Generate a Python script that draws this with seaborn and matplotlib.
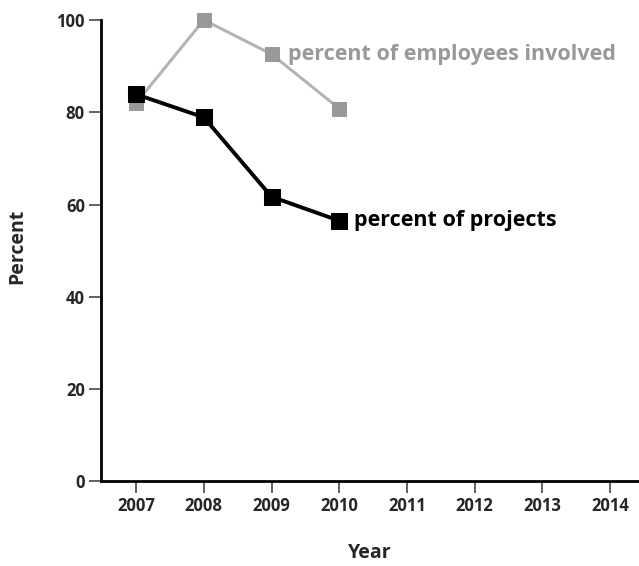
import pandas as pd
import matplotlib.pyplot as plt
import seaborn as sns

# values
years = [2007, 2008, 2009, 2010]
employees_pct = [82, 100, 92.6, 80.8]
projects_pct = [83.9, 78.9, 61.7, 56.5]
year_ticks = [2007, 2008, 2009, 2010, 2011, 2012, 2013, 2014]
pct_ticks = [0, 20, 40, 60, 80, 100]
label_emp = "percent of employees involved"
label_proj = "percent of projects"

df = pd.DataFrame({
    "Year": years * 2,
    "Percent": employees_pct + projects_pct,
    "series": [label_emp] * 4 + [label_proj] * 4,
})

sns.set_style("ticks")
plt.rcParams['font.family'] = ['Open Sans', 'DejaVu Sans']

fig = plt.figure(figsize=(6.39, 5.66), dpi=100)
ax = fig.add_axes([0.158, 0.1493, 0.842, 0.8154])

# gray series first, black one drawn over it
sns.lineplot(data=df[df.series == label_emp], x="Year", y="Percent", ax=ax,
             color="#b4b4b4", lw=2.2, marker="s", markersize=9.5,
             markerfacecolor="#999999", markeredgecolor="#999999",
             legend=False, clip_on=False)
sns.lineplot(data=df[df.series == label_proj], x="Year", y="Percent", ax=ax,
             color="black", lw=2.8, marker="s", markersize=11,
             markerfacecolor="black", markeredgecolor="black",
             legend=False, clip_on=False)

ax.text(years[-2] + 0.24, employees_pct[-2], label_emp,
        color="#999999", fontsize=15.5, fontweight="bold", va="center")
ax.text(years[-1] + 0.22, projects_pct[-1], label_proj,
        color="black", fontsize=15.5, fontweight="bold", va="center")

ax.set_xlim(2006.48, 2014.43)
ax.set_ylim(0, 100)
ax.set_xticks(year_ticks)
ax.set_yticks(pct_ticks)
ax.tick_params(labelsize=12, width=1.3, length=8.5, color="#555555", pad=3)
for lab in ax.get_xticklabels() + ax.get_yticklabels():
    lab.set_fontweight("bold")
for s in ["left", "bottom"]:
    ax.spines[s].set_linewidth(2)
    ax.spines[s].set_color("black")
ax.spines["top"].set_visible(False)
ax.spines["right"].set_visible(False)

ax.set_xlabel("Year", fontsize=14, fontweight="bold")
ax.set_ylabel("Percent", fontsize=14, fontweight="bold")
ax.xaxis.set_label_coords(0.5, -0.133)
ax.yaxis.set_label_coords(-0.137, 0.51)

fig.savefig("out.png", dpi=100)
